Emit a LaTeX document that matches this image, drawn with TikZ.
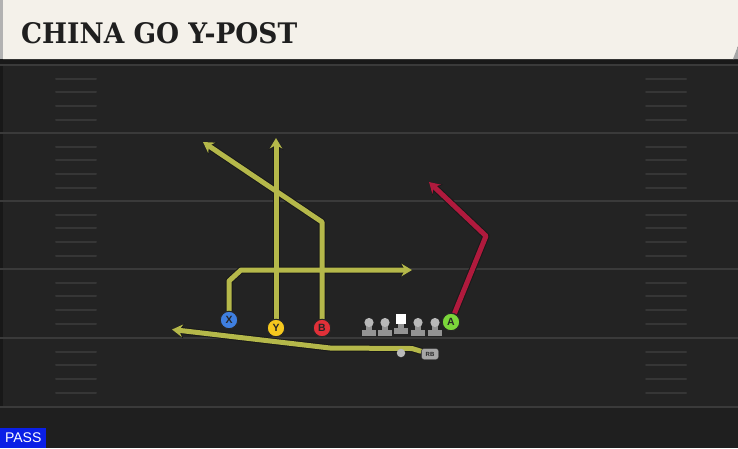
\documentclass[tikz,border=0pt]{standalone}
\usepackage{fontspec}
\usepackage{graphicx}
\setmainfont{Liberation Sans}
\newfontfamily\titlefont{DejaVu Serif}
\usetikzlibrary{arrows.meta}
\definecolor{fieldbg}{HTML}{232323}
\definecolor{headbg}{HTML}{F4F1EA}
\definecolor{yardcol}{HTML}{3A3A3A}
\definecolor{hashcol}{HTML}{363636}
\definecolor{routey}{HTML}{B5B84A}
\definecolor{router}{HTML}{B01A3D}
\definecolor{xblue}{HTML}{3F7FE0}
\definecolor{yyellow}{HTML}{F5C81E}
\definecolor{bred}{HTML}{E03038}
\definecolor{agreen}{HTML}{7BD63A}
\definecolor{passblue}{HTML}{0A1FE6}
\pgfdeclarelayer{back}
\pgfdeclarelayer{bg}
\pgfsetlayers{back,bg,main}
\tikzset{
  player/.style={circle, draw=black!85, line width=1pt, minimum size=17.5pt, inner sep=0pt,
    font=\bfseries\fontsize{10.5}{10.5}\selectfont, text=black!85},
  routeout/.style={draw=black!90, line width=7pt, line join=round,
    -{Stealth[length=12pt,width=15pt,inset=4pt]}},
  routein/.style={line width=5pt, line join=round,
    -{Stealth[length=10.5pt,width=12.5pt,inset=3.5pt]}},
  yardline/.style={draw=yardcol, line width=2pt},
  hashmark/.style={draw=hashcol, line width=2pt, line cap=round},
}
\begin{document}
\begin{tikzpicture}[x=1pt,y=-1pt]
\useasboundingbox (0,0) rectangle (738,448);
\begin{pgfonlayer}{back}
\fill[fieldbg] (0,0) rectangle (738,448);
\fill[black!12!fieldbg] (0,408) rectangle (738,448);
\fill[black!30!fieldbg] (0,65) rectangle (3,408);
% header
\fill[black!90] (0,58) rectangle (738,64);
\fill[headbg] (3,0) -- (738,0) -- (738,46) -- (734,59) -- (3,59) -- cycle;
\fill[gray!60] (0,0) rectangle (3,59);
\fill[gray!70] (733,59) -- (738,46) -- (738,59) -- cycle;
% yard lines
\foreach \yy in {65,133,201,269,338,407} { \draw[yardline] (0,\yy) -- (738,\yy); }
\foreach \yy in {65,133,201,269,338} {
  \foreach \k in {1,2,3,4} {
    \draw[hashmark] (56,\yy+13.7*\k) -- (96,\yy+13.7*\k);
    \draw[hashmark] (646,\yy+13.7*\k) -- (686,\yy+13.7*\k);
  }
}
\end{pgfonlayer}

\node[anchor=west, inner sep=0pt, text=black!88] (title) at (21,33)
  {\resizebox{276pt}{21pt}{\titlefont\bfseries CHINA GO Y-POST}};

% players
\node[player, fill=xblue] (X) at (229,320) {X};
\node[player, fill=yyellow] (Y) at (276,328) {Y};
\node[player, fill=bred] (B) at (322,328) {B};
\node[player, fill=agreen] (A) at (451,322) {A};
\node[draw=black!80, fill=gray!70, rounded corners=2.5pt, minimum width=17pt, minimum height=11pt,
  inner sep=0pt, font=\bfseries\fontsize{6}{6}\selectfont, text=black!85] (RB) at (430,354) {RB};
\node[circle, fill=gray!55, minimum size=8.5pt, inner sep=0pt] (QB) at (401,353) {};

% offensive line
\foreach \xx in {369,385,418,435} {
  \fill[gray!85] (\xx-7,330) rectangle (\xx+7,336);
  \fill[gray!85] (\xx-3,323) rectangle (\xx+3,331);
  \fill[gray!55] (\xx,322.5) circle (4.6pt);
}
\fill[gray!85] (401-7,328) rectangle (401+7,334);
\fill[gray!85] (401-3,322) rectangle (401+3,329);
\fill[white] (401-5,313.5) rectangle (401+5,323.5);

% routes
\coordinate (x1) at (229,281);
\coordinate (x2) at (241,270);
\coordinate (x3) at (412,270);
\coordinate (y1) at (276,138);
\coordinate (b1) at (322,222);
\coordinate (b2) at (203,142);
\coordinate (r1) at (412,348.5);
\coordinate (r2) at (330,348);
\coordinate (r3) at (172,329.5);
\coordinate (a1) at (486,236);
\coordinate (a2) at (429,182);
\begin{pgfonlayer}{bg}
\draw[routeout] (X) -- (x1) -- (x2) -- (x3);
\draw[routeout] (Y) -- (y1);
\draw[routeout] (B) -- (b1) -- (b2);
\draw[routeout] (RB) -- (r1) -- (r2) -- (r3);
\draw[routeout] (A) -- (a1) -- (a2);
\draw[routein, draw=routey] (X) -- (x1) -- (x2) -- (x3);
\draw[routein, draw=routey] (B) -- (b1) -- (b2);
\draw[routein, draw=routey] (Y) -- (y1);
\draw[routein, draw=routey] (RB) -- (r1) -- (r2) -- (r3);
\draw[routein, draw=router] (A) -- (a1) -- (a2);
\end{pgfonlayer}

\node[fill=passblue, text=white, anchor=south west, minimum width=46pt, minimum height=20pt,
  inner sep=0pt, font=\fontsize{14}{14}\selectfont] (pass) at (0,448) {PASS};
\end{tikzpicture}
\end{document}
